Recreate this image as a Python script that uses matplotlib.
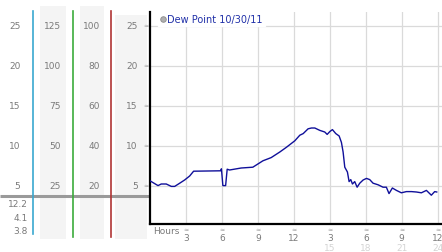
import matplotlib
matplotlib.use("Agg")
import matplotlib.pyplot as plt
from matplotlib.lines import Line2D
from matplotlib.transforms import blended_transform_factory

# ---------------- data ----------------
hours = [0.0, 0.67, 0.94, 1.36, 1.78, 2.06, 2.48, 2.89, 3.31, 3.64, 5.89, 5.96,
         6.08, 6.31, 6.44, 6.64, 7.61, 8.58, 9.0, 9.42, 10.11, 10.83, 11.39,
         12.08, 12.5, 12.78, 13.19, 13.47, 13.75, 14.17, 14.58, 14.78, 15.0,
         15.22, 15.5, 15.78, 15.97, 16.11, 16.25, 16.47, 16.61, 16.75, 16.89,
         17.08, 17.28, 17.5, 17.78, 18.06, 18.33, 18.61, 19.03, 19.44, 19.72,
         19.94, 20.22, 20.56, 20.97, 21.39, 21.81, 22.22, 22.64, 23.06, 23.47,
         23.75, 23.92]
dew = [5.6, 5.0, 5.2, 5.2, 4.9, 4.9, 5.3, 5.7, 6.2, 6.8, 6.85, 7.1,
       5.0, 5.0, 7.05, 6.95, 7.2, 7.3, 7.7, 8.1, 8.5, 9.2, 9.8,
       10.6, 11.3, 11.5, 12.1, 12.2, 12.2, 11.9, 11.7, 11.4, 11.75,
       12.0, 11.5, 11.2, 10.4, 9.2, 7.3, 6.7, 5.5, 5.75, 5.2,
       5.5, 4.8, 5.3, 5.7, 5.9, 5.75, 5.3, 5.1, 4.8, 4.8,
       4.0, 4.7, 4.4, 4.1, 4.25, 4.25, 4.2, 4.1, 4.4, 3.8,
       4.25, 4.2]

y_ticks = [5, 10, 15, 20, 25]
col1_labels = ["5", "10", "15", "20", "25"]
col2_labels = ["25", "50", "75", "100", "125"]
col3_labels = ["20", "40", "60", "80", "100"]
col4_labels = ["5", "10", "15", "20", "25"]
x_ticks = [3, 6, 9, 12, 15, 18, 21, 24]
x_labels = ["3", "6", "9", "12", "3", "6", "9", "12"]
x_labels24 = ["", "", "", "", "15", "18", "21", "24"]
stats = ["12.2", "4.1", "3.8"]
legend_label = "Dew Point 10/30/11"

# ---------------- layout ----------------
W, H = 442, 253
fig = plt.figure(figsize=(W / 100, H / 100), dpi=100)
fig.patch.set_facecolor("white")

def fx(px):
    return px / W

def fy(py):
    return 1 - py / H

TOP, BOT, LEFT = 13, 225, 149.5
YLO, YHI = 0.2, 26.7
PPU = (BOT - TOP) / (YHI - YLO)  # pixels per unit

FS = 6.5
GRAY_TXT = "#7a7a7a"
MARK = "#9a9a9a"

# left panel axes (same vertical scale as main plot)
axL = fig.add_axes([0, 0, fx(LEFT), 1])
axL.set_xlim(0, LEFT)
axL.set_ylim(YLO - (H - BOT) / PPU, YHI + TOP / PPU)
axL.axis("off")

bg = "#f4f4f4"
axL.axvspan(40, 65.5, ymin=fy(240), ymax=fy(7), color=bg, lw=0, zorder=0)
axL.axvspan(80, 104, ymin=fy(240), ymax=fy(7), color=bg, lw=0, zorder=0)
axL.axvspan(115, 146.5, ymin=fy(240), ymax=fy(16), color=bg, lw=0, zorder=0)

axL.axvline(33.3, ymin=fy(235), ymax=fy(12), color="#3aa8d0", lw=1.2, zorder=2)
axL.axvline(72.7, ymin=fy(238), ymax=fy(12), color="#3cab3c", lw=1.2, zorder=2)
axL.axvline(111.3, ymin=fy(238), ymax=fy(12), color="#b03535", lw=1.2, zorder=2)
axL.plot([0, 1], [fy(196.8)] * 2, transform=axL.transAxes, color="#9a9a9a",
         lw=2.2, zorder=1, solid_capstyle="butt")

for v, a, b, c, d in zip(y_ticks, col1_labels, col2_labels, col3_labels, col4_labels):
    axL.text(20.5, v, a, ha="right", va="center", fontsize=FS, color=GRAY_TXT)
    axL.text(60.8, v, b, ha="right", va="center", fontsize=FS, color=GRAY_TXT)
    axL.text(99.8, v, c, ha="right", va="center", fontsize=FS, color=GRAY_TXT)
    axL.text(137.8, v, d, ha="right", va="center", fontsize=FS, color=GRAY_TXT)
    axL.text(145.5, v, "≈", ha="center", va="center", fontsize=4.5, color=MARK)

st_tr = blended_transform_factory(axL.transData, axL.transAxes)
for i, s in enumerate(stats):
    axL.text(27.5, fy(205 + i * 13.5), s, ha="right", va="center", fontsize=FS,
             color=GRAY_TXT, transform=st_tr)

# main axes
ax = fig.add_axes([fx(LEFT), fy(BOT), fx(W) - fx(LEFT), fy(TOP) - fy(BOT)])
ax.set_xlim(-0.04, 24.36)
ax.set_ylim(YLO, YHI)
ax.plot(hours, dew, color="#10109a", lw=1.0, zorder=3)

ax.set_xticks(x_ticks)
ax.set_yticks(y_ticks)
ax.grid(True, color="#dadada", lw=0.9)
ax.tick_params(length=0, labelbottom=False, labelleft=False)
for s in ("top", "right"):
    ax.spines[s].set_visible(False)
for s in ("left", "bottom"):
    ax.spines[s].set_linewidth(1.6)
    ax.spines[s].set_color("black")
ax.set_axisbelow(True)

xt = ax.get_xaxis_transform()
axh = BOT - TOP
ax.text(0.3, -(231.5 - BOT) / axh, "Hours", ha="left", va="center", fontsize=FS,
        color=GRAY_TXT, transform=xt, clip_on=False)
for t, lab, lab2 in zip(x_ticks, x_labels, x_labels24):
    ax.text(t, -(230.5 - BOT) / axh, "≈", ha="center", va="center", fontsize=4.5,
            color=MARK, transform=xt, clip_on=False)
    ax.text(t, -(238.5 - BOT) / axh, lab, ha="center", va="center", fontsize=FS,
            color=GRAY_TXT, transform=xt, clip_on=False)
    if lab2:
        ax.text(t, -(249 - BOT) / axh, lab2, ha="center", va="center", fontsize=FS,
                color="#d4d4d4", transform=xt, clip_on=False)

handle = Line2D([], [], marker="o", linestyle="none", markersize=4,
                markerfacecolor="#b0b0b0", markeredgecolor="#8a8a8a", markeredgewidth=0.6)
leg = ax.legend([handle], [legend_label], loc="upper left",
                bbox_to_anchor=(0.028, 1.0),
                fontsize=7, frameon=True, fancybox=False, borderpad=0.2,
                handlelength=0.6, handletextpad=0.2, borderaxespad=0.0)
leg.get_frame().set_facecolor("white")
leg.get_frame().set_edgecolor("white")
leg.get_frame().set_alpha(1)
for txt in leg.get_texts():
    txt.set_color("#2030a8")

fig.savefig("out.png", dpi=100)
